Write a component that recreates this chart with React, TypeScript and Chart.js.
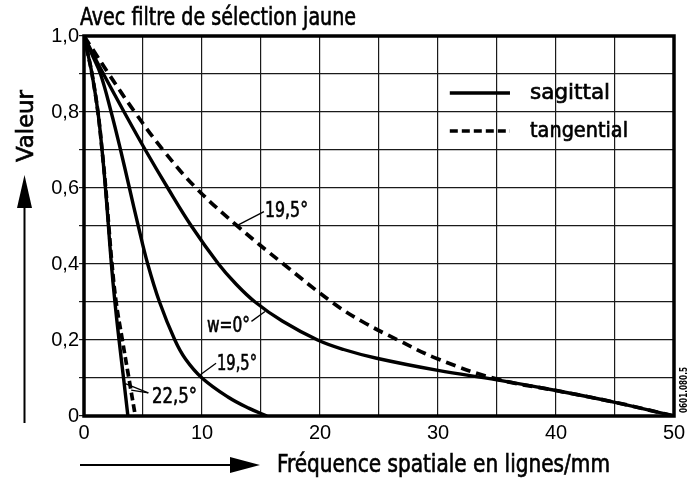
import React, { useEffect, useRef } from "react";
import { Chart, registerables } from "chart.js";

Chart.register(...registerables);

// ---- Texts ----
const TITLE = "Avec filtre de sélection jaune";
const X_TITLE = "Fréquence spatiale en lignes/mm";
const Y_TITLE = "Valeur";
const LEGEND_LABELS = ["sagittal", "tangential"];
const CODE_LABEL = "0601.080.5";
const CURVE_LABELS = ["19,5°", "w=0°", "19,5°", "22,5°"];

// ---- Tick labels ----
const X_TICK_LABELS = ["0", "10", "20", "30", "40", "50"];
const Y_TICK_LABELS = ["0", "0,2", "0,4", "0,6", "0,8", "1,0"];

// ---- Series (x: lignes/mm, y: valeur) ----
const sag0X = [0, 0.8, 1.65, 3.4, 5.2, 7.1, 9.1, 11.4, 12.8, 14.5, 16.8, 19.8, 22, 24.8, 30, 35, 40, 45, 50];
const sag0Y = [1, 0.95, 0.9, 0.8, 0.7, 0.6, 0.5, 0.4, 0.35, 0.3, 0.25, 0.2, 0.175, 0.152, 0.12, 0.095, 0.067, 0.036, 0];

const sag195X = [0, 0.7, 1.4, 2.3, 3.1, 3.85, 4.6, 5.4, 6.4, 7.7, 8.6, 10, 12.2, 14, 15.5];
const sag195Y = [1, 0.95, 0.9, 0.8, 0.7, 0.6, 0.5, 0.4, 0.3, 0.2, 0.15, 0.1, 0.05, 0.02, 0];

const sag225X = [0, 0.35, 0.68, 1.18, 1.53, 1.82, 2.07, 2.32, 2.62, 2.97, 3.35, 3.72];
const sag225Y = [1, 0.95, 0.9, 0.8, 0.7, 0.6, 0.5, 0.4, 0.3, 0.2, 0.1, 0];

const tan195X = [0, 1.05, 2.1, 4.3, 6.7, 9.5, 13.0, 16.9, 21.0, 23.5, 26.6, 30, 35, 40, 45, 50];
const tan195Y = [1, 0.95, 0.9, 0.8, 0.7, 0.6, 0.5, 0.4, 0.3, 0.25, 0.2, 0.15, 0.097, 0.067, 0.036, 0];

const tan225X = [0, 0.35, 0.68, 1.18, 1.53, 1.84, 2.1, 2.37, 2.72, 3.25, 3.8, 4.35];
const tan225Y = [1, 0.95, 0.9, 0.8, 0.7, 0.6, 0.5, 0.4, 0.3, 0.2, 0.1, 0];

const FONT = "'DejaVu Sans Condensed', 'DejaVu Sans', sans-serif";
const TICK_FONT = "'Liberation Sans Narrow', 'Liberation Sans', sans-serif";

const pts = (xs: number[], ys: number[]) => xs.map((x, i) => ({ x, y: ys[i] }));

function drawText(
  ctx: CanvasRenderingContext2D,
  text: string,
  x: number,
  y: number,
  size: number,
  width: number,
  rot = 0,
  weight = "normal",
  thick = 0.6
) {
  ctx.save();
  ctx.font = `${weight} ${size}px ${FONT}`;
  ctx.fillStyle = "#000";
  ctx.strokeStyle = "#000";
  ctx.textBaseline = "alphabetic";
  ctx.textAlign = "left";
  ctx.translate(x, y);
  if (rot) ctx.rotate(rot);
  const w = ctx.measureText(text).width;
  ctx.scale(width / w, 1);
  ctx.fillText(text, 0, 0);
  if (thick > 0) {
    ctx.lineWidth = thick;
    ctx.strokeText(text, 0, 0);
  }
  ctx.restore();
}

const decorPlugin = {
  id: "decor",
  afterDraw(chart: any) {
    const ctx: CanvasRenderingContext2D = chart.ctx;
    const { left, right, top, bottom } = chart.chartArea;
    const xs = chart.scales.x;
    const ys = chart.scales.y;
    const X = (v: number) => xs.getPixelForValue(v);
    const Y = (v: number) => ys.getPixelForValue(v);

    // frame
    ctx.save();
    ctx.strokeStyle = "#000";
    ctx.lineWidth = 3.5;
    ctx.strokeRect(left, top, right - left, bottom - top);
    ctx.restore();

    // title
    drawText(ctx, TITLE, 80, 25, 24, 276);

    // x-axis title + arrow
    drawText(ctx, X_TITLE, 277, 472, 24, 333);
    ctx.save();
    ctx.strokeStyle = "#000";
    ctx.fillStyle = "#000";
    ctx.lineWidth = 2;
    ctx.beginPath();
    ctx.moveTo(80, 465);
    ctx.lineTo(234, 465);
    ctx.stroke();
    ctx.beginPath();
    ctx.moveTo(260, 465);
    ctx.lineTo(230, 457);
    ctx.lineTo(230, 473);
    ctx.closePath();
    ctx.fill();

    // y-axis arrow
    ctx.beginPath();
    ctx.moveTo(24.5, 423);
    ctx.lineTo(24.5, 204);
    ctx.stroke();
    ctx.beginPath();
    ctx.moveTo(24.5, 175);
    ctx.lineTo(17, 208);
    ctx.lineTo(32, 208);
    ctx.closePath();
    ctx.fill();
    ctx.restore();

    // y-axis title
    drawText(ctx, Y_TITLE, 33, 162, 23, 72, -Math.PI / 2);

    // code label
    drawText(ctx, CODE_LABEL, 687, 413, 10, 46, -Math.PI / 2, "bold", 0);

    // legend
    ctx.save();
    ctx.strokeStyle = "#000";
    ctx.lineWidth = 3.5;
    ctx.beginPath();
    ctx.moveTo(X(31.0), Y(0.85));
    ctx.lineTo(X(36.1), Y(0.85));
    ctx.stroke();
    ctx.setLineDash([8, 4]);
    ctx.beginPath();
    ctx.moveTo(X(31.0), Y(0.75));
    ctx.lineTo(X(36.1), Y(0.75));
    ctx.stroke();
    ctx.restore();
    drawText(ctx, LEGEND_LABELS[0], X(37.8), Y(0.85) + 6, 21, 80);
    drawText(ctx, LEGEND_LABELS[1], X(37.8), Y(0.75) + 6, 21, 98);

    // curve labels with leaders
    const leader = (x1: number, y1: number, x2: number, y2: number) => {
      ctx.save();
      ctx.strokeStyle = "#000";
      ctx.lineWidth = 1.3;
      ctx.beginPath();
      ctx.moveTo(X(x1), Y(y1));
      ctx.lineTo(X(x2), Y(y2));
      ctx.stroke();
      ctx.restore();
    };
    leader(13.08, 0.503, 15.25, 0.538);
    drawText(ctx, CURVE_LABELS[0], X(15.34), Y(0.524), 21, 43);
    leader(14.19, 0.249, 15.34, 0.275);
    drawText(ctx, CURVE_LABELS[1], X(10.42), Y(0.221), 21, 43);
    leader(9.83, 0.108, 11.19, 0.139);
    drawText(ctx, CURVE_LABELS[2], X(11.27), Y(0.121), 21, 40);
    leader(3.5, 0.085, 5.45, 0.061);
    leader(4.0, 0.068, 5.45, 0.061);
    drawText(ctx, CURVE_LABELS[3], X(5.76), Y(0.034), 21, 45);
  },
};

export default function App() {
  const ref = useRef<HTMLCanvasElement | null>(null);

  useEffect(() => {
    const canvas = ref.current;
    if (!canvas) return;
    const solid = (data: any, label: string) => ({
      label,
      data,
      borderColor: "#000",
      borderWidth: 3.4,
      pointRadius: 0,
      fill: false,
      tension: 0.4,
    });
    const dashed = (data: any, label: string, dash: number[]) => ({
      ...solid(data, label),
      borderWidth: 3.7,
      borderDash: dash,
    });
    const chart = new Chart(canvas, {
      type: "line",
      data: {
        datasets: [
          solid(pts(sag0X, sag0Y), "sagittal w=0°"),
          solid(pts(sag195X, sag195Y), "sagittal 19,5°"),
          solid(pts(sag225X, sag225Y), "sagittal 22,5°"),
          dashed(pts(tan195X, tan195Y), "tangential 19,5°", [10, 6]),
          dashed(pts(tan225X, tan225Y), "tangential 22,5°", [8, 4]),
        ],
      },
      options: {
        responsive: false,
        animation: false,
        devicePixelRatio: 1,
        layout: { padding: { left: 44, top: 36, right: 19, bottom: 33 } },
        plugins: {
          legend: { display: false },
          tooltip: { enabled: false },
          title: { display: false },
        },
        scales: {
          x: {
            type: "linear",
            min: 0,
            max: 50,
            afterFit: (s: any) => {
              s.height = 34;
            },
            ticks: {
              stepSize: 5,
              autoSkip: false,
              maxRotation: 0,
              padding: 5,
              color: "#000",
              font: { family: TICK_FONT, size: 20 },
              callback: (v: any) => {
                const n = Math.round(Number(v));
                return n % 10 === 0 ? X_TICK_LABELS[n / 10] : "";
              },
            },
            grid: { color: "#1a1a1a", lineWidth: 1.2, drawTicks: false },
            border: { display: false },
          },
          y: {
            type: "linear",
            min: 0,
            max: 1,
            afterFit: (s: any) => {
              s.width = 40;
            },
            ticks: {
              stepSize: 0.1,
              autoSkip: false,
              padding: 0,
              color: "#000",
              font: { family: TICK_FONT, size: 20 },
              callback: (v: any) => {
                const n = Math.round(Number(v) * 10);
                return n % 2 === 0 ? Y_TICK_LABELS[n / 2] : "";
              },
            },
            grid: { color: "#1a1a1a", lineWidth: 1.2, drawTicks: true, tickLength: 5 },
            border: { display: false },
          },
        },
      } as any,
      plugins: [decorPlugin],
    });
    return () => chart.destroy();
  }, []);

  return (
    <div
      style={{
        position: "fixed",
        left: 0,
        top: 0,
        width: 693,
        height: 483,
        background: "#fff",
      }}
    >
      <canvas ref={ref} width={693} height={483} style={{ display: "block" }} />
    </div>
  );
}
